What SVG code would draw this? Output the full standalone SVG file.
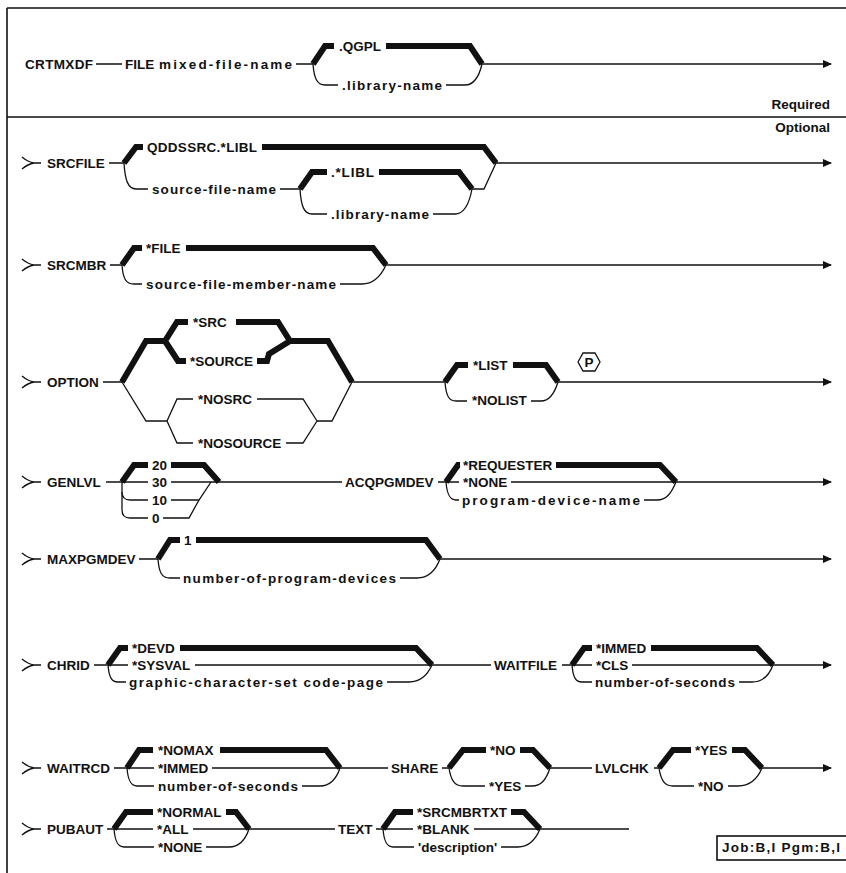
<svg xmlns="http://www.w3.org/2000/svg" width="846" height="873" viewBox="0 0 846 873">
<defs>
<style>
.t{font-family:"Liberation Sans",Arial,sans-serif;font-size:13.5px;font-weight:bold;fill:#111}
.r{text-anchor:end}
.l{fill:none;stroke:#111;stroke-width:1.3}
.k{fill:none;stroke:#111;stroke-width:6;stroke-linejoin:miter;stroke-linecap:butt}
.f{fill:none;stroke:#111;stroke-width:1.6}
</style>
<marker id="arr" viewBox="0 0 9 9" refX="8" refY="4.5" markerWidth="9" markerHeight="9" markerUnits="userSpaceOnUse" orient="auto">
<path d="M0,0.5 L9,4.5 L0,8.5 z" fill="#111"/>
</marker>
</defs>
<rect width="846" height="873" fill="#fff"/>
<g id="frame">
<path class="f" d="M7,8 L846,8 M7,8 L7,873 M7,117 L846,117"/>
</g>

<g id="row-crtmxdf">
<text class="t" x="25" y="69" textLength="68">CRTMXDF</text>
<text class="t" x="125" y="69">FILE</text>
<text class="t" x="159" y="69" textLength="133">mixed-file-name</text>
<text class="t" x="339" y="51">.QGPL</text>
<text class="t" x="342" y="90" textLength="100">.library-name</text>
<text class="t r" x="830" y="109">Required</text>
<text class="t r" x="830" y="132">Optional</text>
</g>

<g id="row-srcfile">
<text class="t" x="47" y="168">SRCFILE</text>
<text class="t" x="147" y="152" textLength="110">QDDSSRC.*LIBL</text>
<text class="t" x="152" y="194" textLength="124">source-file-name</text>
<text class="t" x="331" y="177" textLength="43">.*LIBL</text>
<text class="t" x="331" y="219" textLength="98">.library-name</text>
</g>

<g id="row-srcmbr">
<text class="t" x="47" y="270">SRCMBR</text>
<text class="t" x="146" y="253">*FILE</text>
<text class="t" x="146" y="289" textLength="190">source-file-member-name</text>
</g>

<g id="row-option">
<text class="t" x="47" y="387">OPTION</text>
<text class="t" x="193" y="327">*SRC</text>
<text class="t" x="190" y="366">*SOURCE</text>
<text class="t" x="198" y="404">*NOSRC</text>
<text class="t" x="198" y="448">*NOSOURCE</text>
<text class="t" x="473" y="370">*LIST</text>
<text class="t" x="472" y="405">*NOLIST</text>
<path class="l" d="M578,362 L583,353 L595,353 L600,362 L595,371 L583,371 Z"/>
<text class="t" x="589" y="367" text-anchor="middle" font-size="12">P</text>
</g>

<g id="row-genlvl">
<text class="t" x="47" y="487">GENLVL</text>
<text class="t" x="152" y="470">20</text>
<text class="t" x="152" y="487">30</text>
<text class="t" x="152" y="505">10</text>
<text class="t" x="152" y="523">0</text>
<text class="t" x="345" y="487">ACQPGMDEV</text>
<text class="t" x="463" y="470">*REQUESTER</text>
<text class="t" x="463" y="487">*NONE</text>
<text class="t" x="462" y="505" textLength="178">program-device-name</text>
</g>

<g id="row-maxpgmdev">
<text class="t" x="47" y="564">MAXPGMDEV</text>
<text class="t" x="184" y="545">1</text>
<text class="t" x="183" y="583" textLength="213">number-of-program-devices</text>
</g>

<g id="row-chrid">
<text class="t" x="47" y="670">CHRID</text>
<text class="t" x="132" y="653">*DEVD</text>
<text class="t" x="132" y="670">*SYSVAL</text>
<text class="t" x="129" y="687" textLength="254">graphic-character-set code-page</text>
<text class="t" x="494" y="670">WAITFILE</text>
<text class="t" x="596" y="653">*IMMED</text>
<text class="t" x="596" y="670">*CLS</text>
<text class="t" x="595" y="687" textLength="140">number-of-seconds</text>
</g>

<g id="row-waitrcd">
<text class="t" x="47" y="773">WAITRCD</text>
<text class="t" x="158" y="755">*NOMAX</text>
<text class="t" x="158" y="773">*IMMED</text>
<text class="t" x="158" y="791" textLength="140">number-of-seconds</text>
<text class="t" x="391" y="773">SHARE</text>
<text class="t" x="490" y="755">*NO</text>
<text class="t" x="489" y="791">*YES</text>
<text class="t" x="595" y="773">LVLCHK</text>
<text class="t" x="695" y="755">*YES</text>
<text class="t" x="698" y="791">*NO</text>
</g>

<g id="row-pubaut">
<text class="t" x="47" y="834">PUBAUT</text>
<text class="t" x="157" y="817">*NORMAL</text>
<text class="t" x="157" y="834">*ALL</text>
<text class="t" x="158" y="852">*NONE</text>
<text class="t" x="338" y="834">TEXT</text>
<text class="t" x="417" y="817">*SRCMBRTXT</text>
<text class="t" x="417" y="834">*BLANK</text>
<text class="t" x="418" y="852">'description'</text>
</g>

<g id="job-box">
<rect class="f" x="717" y="836" width="131" height="24"/>
<text class="t" x="722" y="852" textLength="118">Job:B,I Pgm:B,I</text>
</g>

<g id="connectors">
<!-- row 1 -->
<path class="l" d="M96,64 L122,64 M296,64 L313,64"/>
<path class="k" d="M313,64 L325,46 L334,46 M386,46 L470,46 L482,64"/>
<path class="l" d="M313,64 C314,78 317,85 325,85 L338,85 M446,85 L465,85 C473,85 479,77 482,64"/>
<path class="l" d="M482,64 L831,64" marker-end="url(#arr)"/>

<!-- srcfile -->
<path class="l" d="M22,157 Q28,162 34,163 M22,169 Q28,164 34,163 L41,163 M109,163 L124,163"/>
<path class="k" d="M124,163 L136,147 L143,147 M262,147 L484,147 L496,163"/>
<path class="l" d="M124,163 C125,180 128,189 136,189 L148,189 M280,189 L300,189"/>
<path class="k" d="M300,189 L312,172 L327,172 M379,172 L459,172 L472,189"/>
<path class="l" d="M300,189 C301,206 304,214 312,214 L327,214 M433,214 L455,214 C464,214 469,205 472,189 M472,189 L484,189 L496,163"/>
<path class="l" d="M496,163 L831,163" marker-end="url(#arr)"/>

<!-- srcmbr -->
<path class="l" d="M22,259 Q28,264 34,265 M22,271 Q28,266 34,265 L41,265 M110,265 L122,265"/>
<path class="k" d="M122,265 L134,248 L142,248 M186,248 L373,248 L386,265"/>
<path class="l" d="M122,265 C123,279 126,284 134,284 L142,284 M340,284 L362,284 C372,284 380,278 386,265"/>
<path class="l" d="M386,265 L831,265" marker-end="url(#arr)"/>

<!-- option -->
<path class="l" d="M22,376 Q28,381 34,382 M22,388 Q28,383 34,382 L41,382 M103,382 L122,382"/>
<path class="k" d="M122,382 L146,341 L165,341 M165,341 L177,322 L188,322 M236,322 L278,322 L290,341 M165,341 L178,361 L186,361 M257,361 L267,361 L269,354 L290,341 M290,341 L328,341 L352,382"/>
<path class="l" d="M122,382 L146,421 L167,421 M167,421 L177,399 L193,399 M257,399 L303,399 L317,421 M167,421 L177,443 L193,443 M286,443 L303,443 L317,421 M317,421 L332,421 L352,382"/>
<path class="l" d="M352,382 L445,382"/>
<path class="k" d="M445,382 L457,365 L468,365 M513,365 L546,365 L558,382"/>
<path class="l" d="M445,382 C446,396 449,401 456,401 L467,401 M531,401 L541,401 C549,401 554,395 558,382"/>
<path class="l" d="M558,382 L831,382" marker-end="url(#arr)"/>

<!-- genlvl -->
<path class="l" d="M22,476 Q28,481 34,482 M22,488 Q28,483 34,482 L41,482 M106,482 L122,482"/>
<path class="k" d="M122,482 L134,465 L148,465 M171,465 L204,465 L219,482"/>
<path class="l" d="M122,482 L148,482 M171,482 L219,482"/>
<path class="l" d="M122,482 L122,492 Q122,500 130,500 L148,500 M171,500 L199,500 L211,482"/>
<path class="l" d="M122,492 L122,510 Q122,518 130,518 L148,518 M163,518 L189,518 L199,500"/>
<path class="l" d="M219,482 L342,482 M438,482 L446,482"/>
<path class="k" d="M446,482 L458,465 L460,465 M556,465 L660,465 L676,482"/>
<path class="l" d="M446,482 L459,482 M511,482 L676,482"/>
<path class="l" d="M446,482 C447,495 450,500 456,500 L459,500 M644,500 L657,500 C666,500 671,494 676,482"/>
<path class="l" d="M676,482 L831,482" marker-end="url(#arr)"/>

<!-- maxpgmdev -->
<path class="l" d="M22,553 Q28,558 34,559 M22,565 Q28,560 34,559 L41,559 M139,559 L158,559"/>
<path class="k" d="M158,559 L170,540 L180,540 M196,540 L426,540 L440,559"/>
<path class="l" d="M158,559 C159,573 162,578 170,578 L180,578 M400,578 L417,578 C427,578 435,572 440,559"/>
<path class="l" d="M440,559 L831,559" marker-end="url(#arr)"/>

<!-- chrid -->
<path class="l" d="M22,659 Q28,664 34,665 M22,671 Q28,666 34,665 L41,665 M94,665 L108,665"/>
<path class="k" d="M108,665 L120,648 L128,648 M180,648 L416,648 L432,665"/>
<path class="l" d="M108,665 L128,665 M195,665 L432,665"/>
<path class="l" d="M108,665 C109,678 112,682 118,682 L126,682 M387,682 L409,682 C419,682 427,676 432,665"/>
<path class="l" d="M432,665 L491,665 M562,665 L572,665"/>
<path class="k" d="M572,665 L584,648 L592,648 M651,648 L757,648 L773,665"/>
<path class="l" d="M572,665 L592,665 M632,665 L773,665"/>
<path class="l" d="M572,665 C573,678 576,682 582,682 L592,682 M739,682 L752,682 C762,682 769,676 773,665"/>
<path class="l" d="M773,665 L831,665" marker-end="url(#arr)"/>

<!-- waitrcd -->
<path class="l" d="M22,762 Q28,767 34,768 M22,774 Q28,769 34,768 L41,768 M114,768 L127,768"/>
<path class="k" d="M127,768 L139,750 L153,750 M220,750 L326,750 L340,768"/>
<path class="l" d="M127,768 L154,768 M212,768 L340,768"/>
<path class="l" d="M127,768 C128,781 131,786 137,786 L154,786 M302,786 L320,786 C330,786 336,780 340,768"/>
<path class="l" d="M340,768 L388,768 M442,768 L449,768"/>
<path class="k" d="M449,768 L463,750 L486,750 M520,750 L533,750 L550,768"/>
<path class="l" d="M449,768 C451,781 455,786 463,786 L485,786 M525,786 L532,786 C541,786 546,780 550,768"/>
<path class="l" d="M550,768 L592,768 M654,768 L659,768"/>
<path class="k" d="M659,768 L673,750 L691,750 M732,750 L745,750 L762,768"/>
<path class="l" d="M659,768 C661,781 665,786 673,786 L694,786 M728,786 L738,786 C748,786 757,780 762,768"/>
<path class="l" d="M762,768 L831,768" marker-end="url(#arr)"/>

<!-- pubaut -->
<path class="l" d="M22,823 Q28,828 34,829 M22,835 Q28,830 34,829 L41,829 M107,829 L114,829"/>
<path class="k" d="M114,829 L126,812 L153,812 M226,812 L236,812 L249,829"/>
<path class="l" d="M114,829 L153,829 M193,829 L249,829"/>
<path class="l" d="M114,829 C115,842 118,847 124,847 L154,847 M206,847 L229,847 C239,847 245,841 249,829"/>
<path class="l" d="M249,829 L335,829 M376,829 L383,829"/>
<path class="k" d="M383,829 L395,812 L413,812 M511,812 L524,812 L540,829"/>
<path class="l" d="M383,829 L413,829 M474,829 L540,829"/>
<path class="l" d="M383,829 C384,842 387,847 393,847 L414,847 M501,847 L518,847 C528,847 535,841 540,829"/>
<path class="l" d="M540,829 L629,829"/>
</g>
</svg>
